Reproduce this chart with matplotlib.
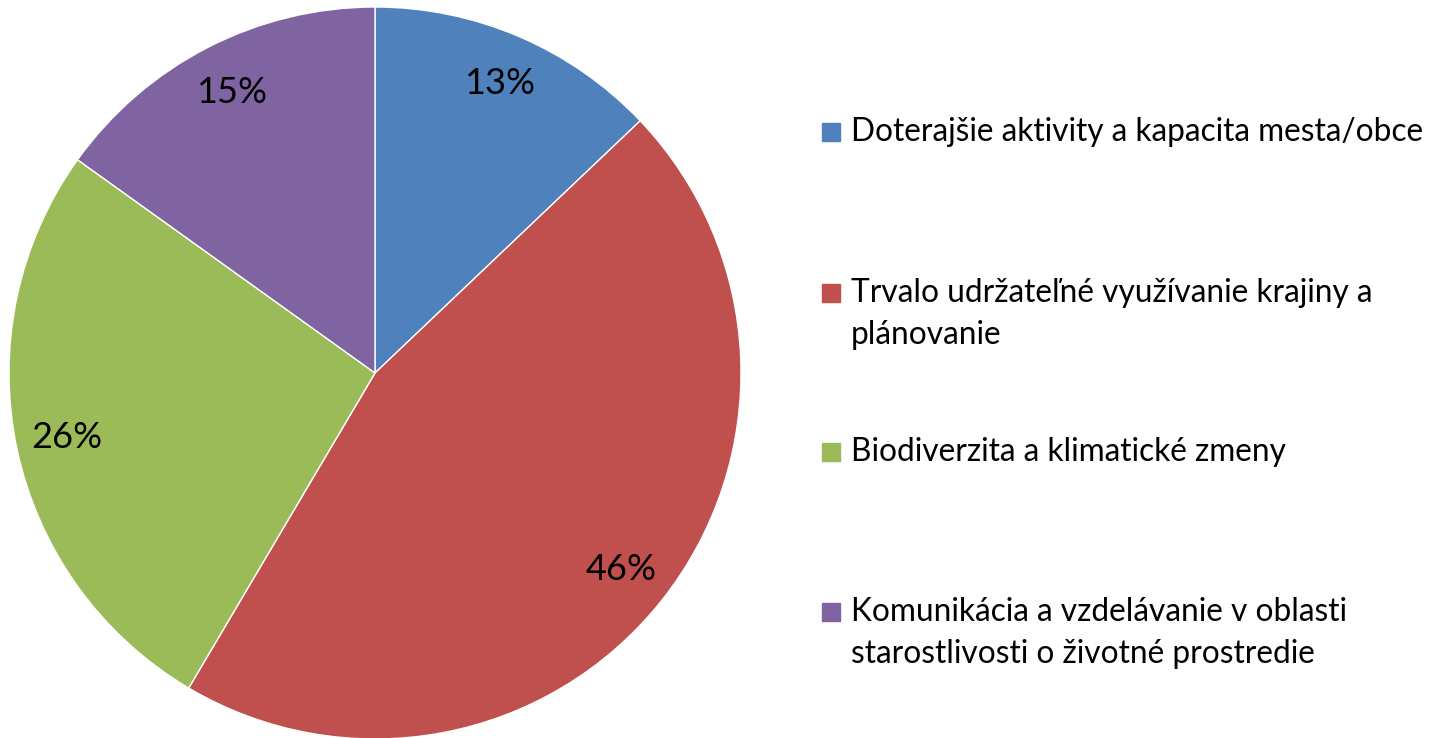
import numpy as np
import matplotlib
matplotlib.use('Agg')
import matplotlib.pyplot as plt
from matplotlib.patches import Rectangle

# data (slice sizes estimated from the wedge edges)
categories = ['Doterajšie aktivity a kapacita mesta/obce',
              'Trvalo udržateľné využívanie krajiny a\nplánovanie',
              'Biodiverzita a klimatické zmeny',
              'Komunikácia a vzdelávanie v oblasti\nstarostlivosti o životné prostredie']
shares = [12.9, 45.6, 26.4, 15.1]
colors = ['#4F81BD', '#C0504D', '#9BBB59', '#8064A2']

plt.rcParams['font.family'] = ['Lato', 'DejaVu Sans']

W, H = 1437, 738
fig = plt.figure(figsize=(W / 100, H / 100), dpi=100)

# pie axes: center (375, 373) px, radius 366 px
cx, cy, r = 375, 373, 366
ax = fig.add_axes([(cx - r) / W, (H - cy - r) / H, 2 * r / W, 2 * r / H])
wedges, texts, autotexts = ax.pie(shares, colors=colors, startangle=90, counterclock=False,
                                  autopct='%.0f%%', pctdistance=0.86,
                                  wedgeprops=dict(edgecolor='white', linewidth=1))
for t in autotexts:
    t.set_fontsize(26)
    t.set_color('black')
ax.set_xlim(-1, 1)
ax.set_ylim(-1, 1)
ax.set_aspect('equal')
ax.axis('off')

# legend drawn by hand
first_line_y = [132, 293, 452, 612]
line_gap = 42
for cat, col, y0 in zip(categories, colors, first_line_y):
    fig.add_artist(Rectangle((822 / W, 1 - (y0 + 9) / H), 18 / W, 18 / H,
                             transform=fig.transFigure, color=col))
    for i, line in enumerate(cat.split('\n')):
        fig.text(851 / W, 1 - (y0 + i * line_gap) / H, line, fontsize=22.8,
                 va='center', ha='left', color='black')

fig.savefig('out.png', dpi=100)
